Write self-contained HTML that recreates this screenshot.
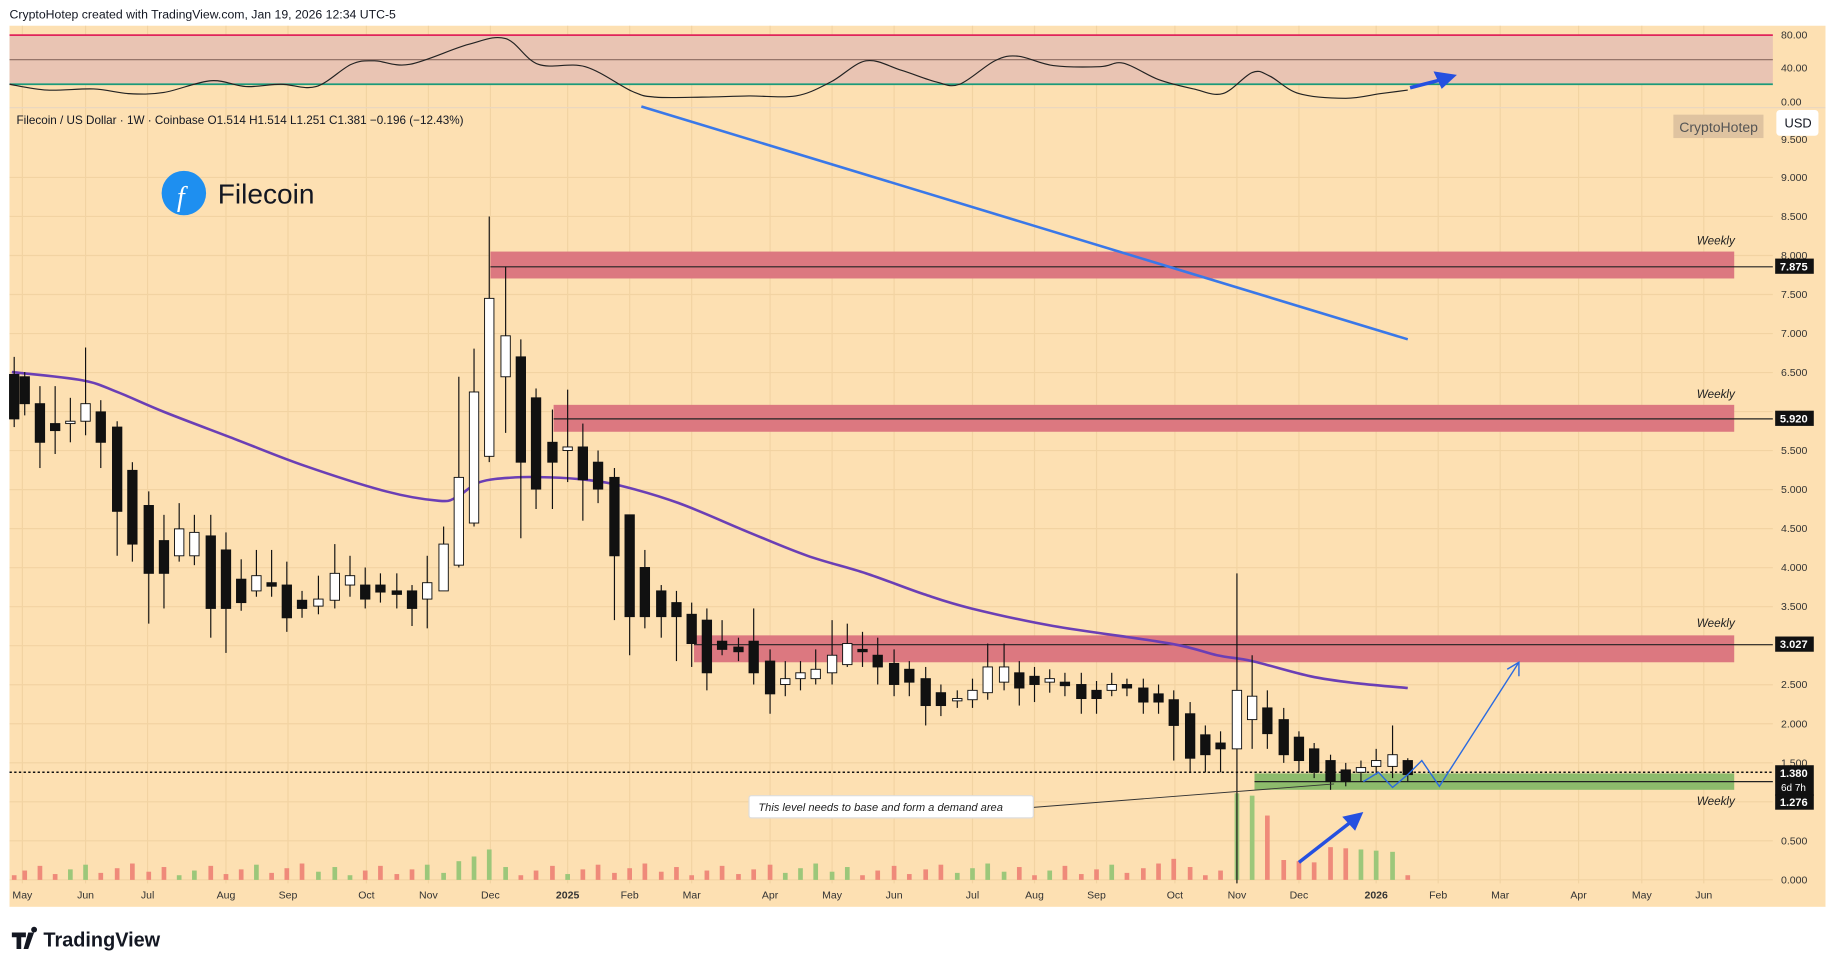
<!DOCTYPE html>
<html><head><meta charset="utf-8"><style>
html,body{margin:0;padding:0;background:#fff;}
svg{display:block;font-family:"Liberation Sans",sans-serif;}
</style></head><body>
<svg id="s" width="1835" height="970" viewBox="0 0 1568 829" xmlns="http://www.w3.org/2000/svg">
<rect width="1568" height="829" fill="#fff"/>
<text x="8" y="16" font-size="10.5" fill="#131722">CryptoHotep created with TradingView.com, Jan 19, 2026 12:34 UTC-5</text>
<rect x="8" y="22" width="1552" height="753" fill="#fde0b2"/>
<g id="grid" stroke="#f2d3a2" stroke-width="1"></g>
<rect x="8" y="30" width="1507" height="42" fill="#e9c4b3"/>
<line x1="8" y1="30" x2="1515" y2="30" stroke="#e0245a" stroke-width="1.5"/>
<line x1="8" y1="51" x2="1515" y2="51" stroke="#8a6a60" stroke-width="1"/>
<line x1="8" y1="72" x2="1515" y2="72" stroke="#1a9a7a" stroke-width="1.5"/>
<line x1="8" y1="92" x2="1560" y2="92" stroke="#e8d6c0" stroke-width="1"/>
<path id="rsi" fill="none" stroke="#222" stroke-width="1"/>
<g font-size="9" fill="#333"><text x="1522" y="33">80.00</text><text x="1522" y="61">40.00</text><text x="1522" y="90">0.00</text></g>
<line x1="1205" y1="75" x2="1236" y2="67" stroke="#2550e0" stroke-width="3"/>
<polygon points="1245,64 1225,61 1232,76" fill="#2550e0"/>

<text x="14" y="106" font-size="10" fill="#131722">Filecoin / US Dollar · 1W · Coinbase  O1.514  H1.514  L1.251  C1.381  −0.196 (−12.43%)</text>
<rect x="1430" y="98" width="77" height="20" fill="#dfc3a0"/>
<text x="1435" y="113" font-size="12" fill="#555">CryptoHotep</text>
<rect x="1518" y="94" width="36" height="22" rx="3" fill="#fff"/>
<text x="1525" y="109" font-size="11" fill="#131722">USD</text>

<circle cx="157" cy="165" r="19" fill="#1e8ff0"/>
<text x="151" y="176" font-size="24" font-style="italic" fill="#fff" font-family="Liberation Serif,serif">f</text>
<text x="186" y="174" font-size="24" fill="#131722">Filecoin</text>

<g id="axis" font-size="9" fill="#333"></g>

<rect x="419" y="215" width="1063" height="23" fill="#dc7880"/>
<rect x="473" y="346" width="1009" height="23" fill="#dc7880"/>
<rect x="593" y="543" width="889" height="23" fill="#dc7880"/>
<rect x="1072" y="661" width="410" height="14" fill="#8dbb6c"/>
<g stroke="#222" stroke-width="1">
<line x1="419" y1="228" x2="1515" y2="228"/>
<line x1="473" y1="358" x2="1515" y2="358"/>
<line x1="593" y1="551" x2="1515" y2="551"/>
<line x1="1072" y1="668" x2="1515" y2="668"/>
</g>
<line x1="8" y1="660" x2="1515" y2="660" stroke="#111" stroke-width="1.3" stroke-dasharray="2,2"/>
<g font-size="10" font-style="italic" fill="#222">
<text x="1450" y="209">Weekly</text><text x="1450" y="340">Weekly</text><text x="1450" y="536">Weekly</text><text x="1450" y="688">Weekly</text></g>

<line x1="548" y1="91" x2="1203" y2="290" stroke="#3a78e8" stroke-width="2.2"/>
<path id="ma" fill="none" stroke="#6b3fb5" stroke-width="2.2"/>

<g id="vol"></g>
<g id="candles"></g>

<polyline fill="none" stroke="#2a6ae0" stroke-width="1.2" points="1165,668 1178,660 1190,673 1203,662 1215,650 1230,672 1298,566"/>
<polyline fill="none" stroke="#2a6ae0" stroke-width="1.2" points="1288,572 1298,566 1298,578"/>
<line x1="883" y1="690" x2="1140" y2="670" stroke="#333" stroke-width="0.8"/>
<rect x="640" y="680" width="243" height="19" rx="2" fill="#fff" stroke="#ddd"/>
<text x="648" y="693" font-size="9.5" font-style="italic" fill="#222">This level needs to base and form a demand area</text>
<line x1="1110" y1="737" x2="1155" y2="702" stroke="#2550e0" stroke-width="3"/>
<polygon points="1165,694 1147,698 1158,710" fill="#2550e0"/>

<g font-size="9.5" fill="#fff" font-weight="bold">
<rect x="1517" y="221" width="33" height="13" fill="#111"/><text x="1521" y="231">7.875</text>
<rect x="1517" y="351" width="33" height="13" fill="#111"/><text x="1521" y="361">5.920</text>
<rect x="1517" y="544" width="33" height="13" fill="#111"/><text x="1521" y="554">3.027</text>
<rect x="1517" y="654" width="33" height="26" fill="#111"/><text x="1521" y="664">1.380</text>
<text x="1522" y="676" font-weight="normal" font-size="8.5">6d 7h</text>
<rect x="1517" y="679" width="33" height="13" fill="#111"/><text x="1521" y="689">1.276</text>
</g>
<g id="months" font-size="9" fill="#333"></g>
<path d="M10 797h12v4h-4v10h-4v-10h-4z M24 797h5l-5 14h-4z M29 797a2.5 2.5 0 1 1 0.01 0z" fill="#131722"/>
<text x="37" y="809" font-size="17" font-weight="bold" fill="#131722">TradingView</text>
</svg>
<script>
var NS="http://www.w3.org/2000/svg";
function el(p,t,a,txt){var e=document.createElementNS(NS,t);for(var k in a)e.setAttribute(k,a[k]);if(txt)e.textContent=txt;document.getElementById(p).appendChild(e);return e;}
function smooth(pts){var d="M"+pts[0][0]+","+pts[0][1];for(var i=0;i<pts.length-1;i++){var p0=pts[i-1]||pts[i],p1=pts[i],p2=pts[i+1],p3=pts[i+2]||p2;
 d+=" C"+(p1[0]+(p2[0]-p0[0])/6)+","+(p1[1]+(p2[1]-p0[1])/6)+" "+(p2[0]-(p3[0]-p1[0])/6)+","+(p2[1]-(p3[1]-p1[1])/6)+" "+p2[0]+","+p2[1];}return d;}
document.getElementById("rsi").setAttribute("d",smooth([[8,72],[40,77],[80,76],[110,80],[140,79],[180,69],[210,74],[240,72],[270,74],[300,55],[320,52],[350,55],[400,38],[432,33],[460,55],[500,57],[540,78],[560,83],[600,83],[640,82],[680,82],[710,70],[740,52],[770,60],[800,70],[820,72],[850,52],[870,48],[900,56],[940,57],[960,54],[990,68],[1020,76],[1045,80],[1070,62],[1085,65],[1110,80],[1150,84],[1180,80],[1203,77]]));
document.getElementById("ma").setAttribute("d",smooth([[10,318],[70,325],[100,335],[140,352],[200,375],[260,398],[330,420],[375,428],[390,425],[410,412],[440,408],[470,408],[500,410],[530,415],[580,430],[640,455],[690,475],[740,490],[790,508],[830,520],[900,535],[1000,550],[1040,560],[1070,565],[1120,578],[1160,584],[1203,588]]));
var prices=["9.000","8.500","8.000","7.500","7.000","6.500","6.000","5.500","5.000","4.500","4.000","3.500","3.000","2.500","2.000","1.500","1.000","0.500","0.000"];
prices.forEach(function(p){var v=parseFloat(p);var y=185+(8.5-v)*66.7;
 el("grid","line",{x1:8,y1:y,x2:1515,y2:y});
 if(p!="3.000"&&p!="1.000"&&p!="6.000")el("axis","text",{x:1522,y:y+3},p);});
el("axis","text",{x:1522,y:122},"9.500");
var months=[["May",19],["Jun",73],["Jul",126],["Aug",193],["Sep",246],["Oct",313],["Nov",366],["Dec",419],["2025",485],["Feb",538],["Mar",591],["Apr",658],["May",711],["Jun",764],["Jul",831],["Aug",884],["Sep",937],["Oct",1004],["Nov",1057],["Dec",1110],["2026",1176],["Feb",1229],["Mar",1282],["Apr",1349],["May",1403],["Jun",1456]];
months.forEach(function(m){el("grid","line",{x1:m[1],y1:22,x2:m[1],y2:755});
 var a={x:m[1],y:768,"text-anchor":"middle"};if(m[0]=="2025"||m[0]=="2026")a["font-weight"]="bold";el("months","text",a,m[0]);});
var C=[[12,320,358,305,365],[21,322,345,318,355],[34,345,378,330,400],[47,362,368,330,388],[60,362,360,340,378],[73,360,345,297,372],[86,352,378,342,400],[100,365,437,360,475],[113,402,465,395,480],[127,432,490,420,533],[140,462,490,440,520],[153,475,452,430,480],[166,475,455,440,483],[180,458,520,440,545],[193,470,520,455,558],[206,495,515,478,522],[219,505,492,470,510],[232,498,501,470,510],[245,500,528,480,540],[258,513,520,505,528],[272,518,512,492,525],[286,513,490,465,520],[299,500,492,475,510],[312,500,512,485,520],[325,500,506,490,515],[339,505,508,490,520],[352,505,520,500,535],[365,512,498,475,537],[379,505,465,450,505],[392,483,408,322,485],[405,447,335,298,450],[418,390,255,185,395],[432,322,287,228,370],[445,305,395,290,460],[458,340,418,332,435],[472,378,395,350,435],[485,385,382,333,412],[498,382,410,362,445],[511,395,418,385,430],[525,408,475,400,530],[538,440,527,440,560],[551,485,527,470,537],[565,505,527,500,545],[578,515,527,505,565],[591,525,550,515,570],[604,530,575,520,590],[617,548,555,530,560],[631,553,557,545,565],[644,548,575,520,585],[658,565,593,555,610],[671,585,580,565,595],[684,580,575,565,590],[697,580,572,555,585],[711,575,560,530,585],[724,568,550,533,570],[737,555,557,540,570],[750,560,570,545,585],[764,567,585,555,595],[777,572,583,565,595],[791,580,603,570,620],[804,592,603,585,612],[818,598,597,590,605],[831,598,590,580,605],[844,592,570,550,598],[858,583,570,550,590],[871,575,588,565,603],[884,578,585,570,600],[897,583,580,572,592],[910,583,586,575,595],[924,585,597,575,610],[937,590,597,582,610],[950,590,585,575,595],[963,585,588,580,595],[977,588,600,580,610],[990,593,600,585,610],[1003,598,620,590,650],[1017,610,648,600,660],[1030,628,645,620,660],[1043,635,640,625,660],[1057,640,590,490,755],[1070,615,595,560,640],[1083,605,627,590,640],[1097,615,645,605,652],[1110,630,650,625,660],[1123,640,660,635,665],[1137,650,668,645,675],[1150,658,668,652,672],[1163,660,656,650,668],[1176,655,650,640,662],[1190,655,645,620,665],[1203,650,662,648,668]];
C.forEach(function(c,i){var x=c[0],o=c[1],cl=c[2],h=c[3],l=c[4];var up=cl<o;
 el("candles","line",{x1:x,y1:h,x2:x,y2:l,stroke:"#111","stroke-width":1});
 var t=Math.min(o,cl),b=Math.max(o,cl);if(b-t<2)b=t+2;
 el("candles","rect",{x:x-4,y:t,width:8,height:b-t,fill:up?"#fff":"#111",stroke:"#111","stroke-width":0.8});
 var vh=4+((i*37)%11);if(x==1057)vh=74;if(x==1070)vh=72;if(x==1083)vh=55;if(x>=1097&&x<1200)vh=15+((i*13)%14);if(x==418)vh=26;if(x==405)vh=20;if(x==392)vh=16;if(x==1003)vh=18;if(x==1203)vh=4;
 el("vol","rect",{x:x-2,y:752-vh,width:4,height:vh,fill:up?"#9cc77a":"#ef8a7a"});});
</script>
</body></html>
